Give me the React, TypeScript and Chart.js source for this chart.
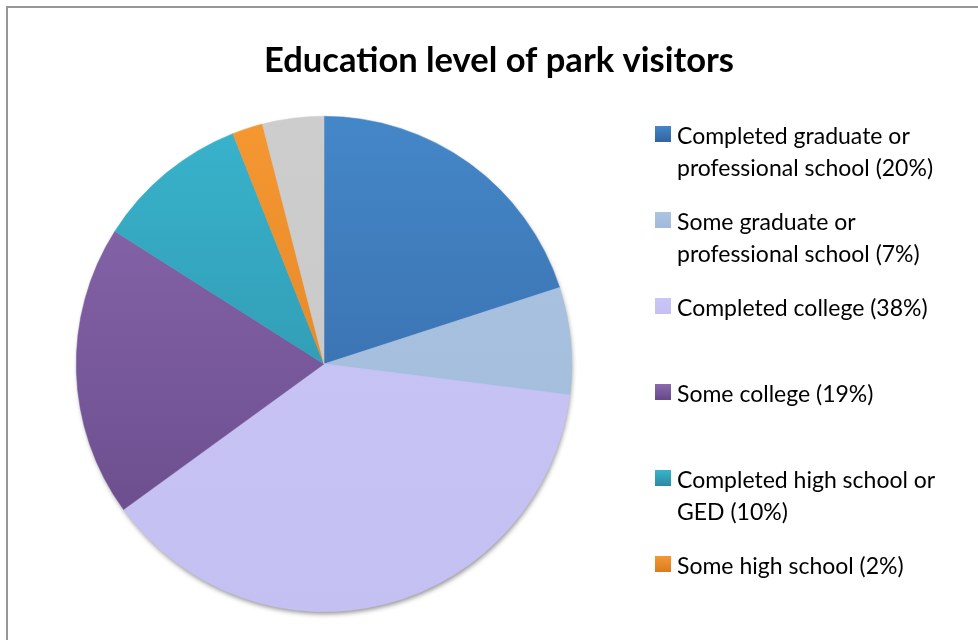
import React, { useEffect, useRef } from "react";
import { Chart, registerables } from "chart.js";

Chart.register(...registerables);

const TITLE = "Education level of park visitors";
const categories: string[][] = [
  ["Completed graduate or", "professional school (20%)"],
  ["Some graduate or", "professional school (7%)"],
  ["Completed college (38%)"],
  ["Some college (19%)"],
  ["Completed high school or", "GED (10%)"],
  ["Some high school (2%)"],
  ["Less than high school (4%)"],
];
const values = [20, 7, 38, 19, 10, 2, 4];
const topColors = ["#4487C8", "#AAC4E2", "#C9C5F6", "#8B69AF", "#39B3CC", "#F59832", "#CDCDCD"];
const bottomColors = ["#3462A0", "#A2BAD9", "#C4C0F1", "#654887", "#2B8AA2", "#D97C20", "#C7C7C7"];

const FONT = "Lato, 'Open Sans', sans-serif";

function vGrad(ctx: CanvasRenderingContext2D, y0: number, y1: number, c0: string, c1: string) {
  const g = ctx.createLinearGradient(0, y0, 0, y1);
  g.addColorStop(0, c0);
  g.addColorStop(1, c1);
  return g;
}

const decor = {
  id: "decor",
  beforeDatasetsDraw(chart: any) {
    const ctx: CanvasRenderingContext2D = chart.ctx;
    const arc = chart.getDatasetMeta(0).data[0];
    if (!arc) return;
    const { x, y, outerRadius } = arc as any;
    ctx.save();
    ctx.shadowColor = "rgba(0,0,0,0.45)";
    ctx.shadowBlur = 5;
    ctx.shadowOffsetX = 1;
    ctx.shadowOffsetY = 3;
    ctx.beginPath();
    ctx.arc(x, y, outerRadius - 1, 0, Math.PI * 2);
    ctx.fillStyle = "#C6C2F3";
    ctx.fill();
    ctx.restore();
  },
  afterDraw(chart: any) {
    const ctx: CanvasRenderingContext2D = chart.ctx;
    ctx.save();
    // frame (top and left edges visible)
    ctx.strokeStyle = "#979797";
    ctx.lineWidth = 2;
    ctx.beginPath();
    ctx.moveTo(7, chart.height + 10);
    ctx.lineTo(7, 7);
    ctx.lineTo(chart.width + 10, 7);
    ctx.stroke();

    // title
    ctx.fillStyle = "#000";
    ctx.font = `bold 34.5px ${FONT}`;
    ctx.textAlign = "center";
    ctx.textBaseline = "alphabetic";
    ctx.fillText(TITLE, 499, 72);

    // legend
    ctx.font = `23px ${FONT}`;
    ctx.textAlign = "left";
    categories.forEach((lines, i) => {
      const base = 144 + i * 86;
      ctx.fillStyle = vGrad(ctx, base - 18, base - 2, topColors[i], bottomColors[i]);
      ctx.fillRect(655, base - 18, 16, 16);
      ctx.fillStyle = "#000";
      lines.forEach((t, j) => ctx.fillText(t, 677, base + j * 32));
    });
    ctx.restore();
  },
};

export default function App() {
  const ref = useRef<HTMLCanvasElement>(null);
  useEffect(() => {
    if (!ref.current) return;
    const chart = new Chart(ref.current, {
      type: "pie",
      data: {
        labels: categories.map((l) => l.join(" ")),
        datasets: [
          {
            data: values,
            backgroundColor: (c: any) => {
              const area = c.chart.chartArea;
              const i = c.dataIndex;
              if (!area) return topColors[i];
              return vGrad(c.chart.ctx, area.top, area.bottom, topColors[i], bottomColors[i]);
            },
            borderColor: (c: any) => {
              const area = c.chart.chartArea;
              const i = c.dataIndex;
              if (!area) return topColors[i];
              return vGrad(c.chart.ctx, area.top, area.bottom, topColors[i], bottomColors[i]);
            },
            borderWidth: 0.5,
          },
        ],
      },
      options: {
        responsive: false,
        animation: false,
        events: [],
        layout: { padding: { left: 76, right: 406, top: 116, bottom: 28 } },
        plugins: {
          legend: { display: false },
          title: { display: false },
          tooltip: { enabled: false },
        },
      },
      plugins: [decor],
    });
    return () => chart.destroy();
  }, []);
  return (
    <div style={{ position: "absolute", left: 0, top: 0, width: 978, height: 640, background: "#fff" }}>
      <canvas ref={ref} width={978} height={640} style={{ display: "block" }} />
    </div>
  );
}
